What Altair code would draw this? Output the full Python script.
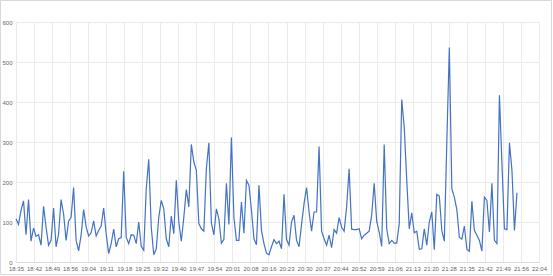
import altair as alt
import pandas as pd

# Tick labels of the time axis (one every 7.2 minutes, starting 18:34:48)
tick_labels = ["18:35", "18:42", "18:49", "18:56", "19:04", "19:11", "19:18", "19:25",
               "19:32", "19:40", "19:47", "19:54", "20:01", "20:08", "20:16", "20:23",
               "20:30", "20:37", "20:44", "20:52", "20:59", "21:06", "21:13", "21:20",
               "21:28", "21:35", "21:42", "21:49", "21:56", "22:04"]
tick_step = 7.2  # minutes between labels
y_ticks = [0, 100, 200, 300, 400, 500, 600]

# One reading per minute, starting at 18:34:48
values = [
    108, 94, 129, 153, 68, 156, 52, 85, 64, 68,
    42, 139, 87, 42, 54, 135, 38, 70, 156, 120,
    54, 102, 112, 186, 54, 28, 67, 131, 88, 65,
    73, 103, 65, 79, 90, 135, 71, 21, 46, 82,
    38, 58, 61, 227, 62, 46, 68, 67, 46, 100,
    39, 29, 183, 257, 87, 18, 33, 112, 154, 133,
    58, 38, 115, 71, 204, 100, 52, 112, 181, 138,
    294, 250, 229, 96,
    83, 77, 233, 298, 98, 68, 133, 108, 47, 57,
    197, 94, 311, 112, 54, 54, 150, 72, 204, 192,
    129, 58, 43, 192, 79, 46, 22, 18, 38, 56,
    46, 52, 33, 169, 56, 42, 100, 117, 54, 38,
    94, 146, 186, 125, 77, 125, 125, 289, 77, 58,
    42, 67, 36, 81, 72, 111, 87, 77, 138, 233,
    82, 81, 81, 83, 58, 67, 72, 77, 117, 197,
    102, 75,
    39, 294, 83, 46, 54, 47, 47, 96, 406, 337,
    204, 83, 123, 73, 77, 32, 33, 83, 42, 100,
    125, 31, 169, 165, 79, 52, 300, 536, 183, 162,
    131, 62, 57, 90, 32, 27, 152, 79, 67, 54,
    27, 162, 154, 75, 197, 54, 46, 417, 246, 83,
    81, 298, 229, 79, 173,
]
minutes = list(range(len(values)))

df = pd.DataFrame({"minute": minutes, "value": values})

label_array = "[" + ",".join("'" + t + "'" for t in tick_labels) + "]"
tick_values = [round(i * tick_step, 4) for i in range(len(tick_labels))]

FONT = "Liberation Sans"
GRID = "#ebebeb"
TXT = "#666666"

line = alt.Chart(df).mark_line(color="#4472C4", strokeWidth=1.2).encode(
    x=alt.X("minute:Q",
            scale=alt.Scale(domain=[0, tick_values[-1]], nice=False, zero=False),
            axis=alt.Axis(values=tick_values,
                          labelExpr=label_array + "[round(datum.value/" + str(tick_step) + ")]",
                          title=None, grid=True, gridColor=GRID, ticks=False,
                          domainColor="#d9d9d9", labelColor=TXT, labelFont=FONT,
                          labelFontSize=6, labelPadding=3, labelFlush=False,
                          labelOverlap=False)),
    y=alt.Y("value:Q",
            scale=alt.Scale(domain=[0, 600], nice=False),
            axis=alt.Axis(values=y_ticks, title=None, grid=True, gridColor=GRID,
                          ticks=False, domain=False, labelColor=TXT, labelFont=FONT,
                          labelFontSize=6, labelPadding=4)),
)

frame = alt.Chart(df).mark_rect(fill=None, stroke="#d9d9d9", strokeWidth=1).encode(
    x=alt.value(-15.5), x2=alt.value(535.5), y=alt.value(-21.5), y2=alt.value(252.5)
)

chart = alt.layer(line, frame).properties(
    width=523, height=240,
    autosize=alt.AutoSizeParams(type="none"),
    padding={"left": 16, "top": 22, "right": 14, "bottom": 14},
    background="white",
).configure_view(stroke=None)

chart.save("out.html", embed_options={"renderer": "svg", "actions": False})
